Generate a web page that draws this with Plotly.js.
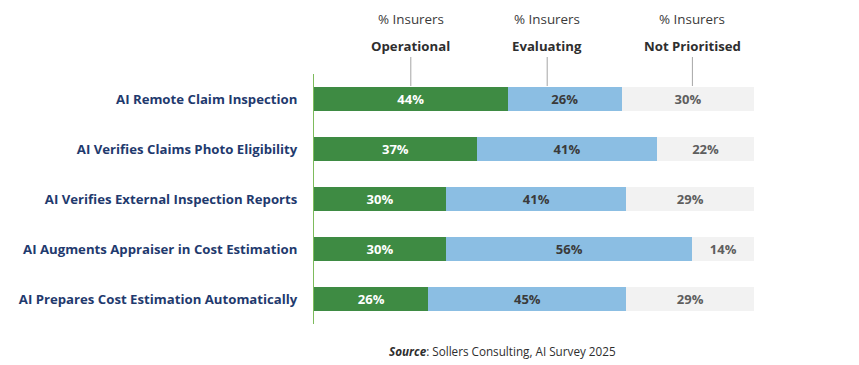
<!DOCTYPE html>
<html>
<head>
<meta charset="utf-8">
<script src="https://cdn.plot.ly/plotly-3.0.1.min.js"></script>
<style>html,body{margin:0;padding:0;background:#fff;}#chart{width:859px;height:365px;}</style>
</head>
<body>
<div id="chart"></div>
<script>
const categories = [
  "AI Remote Claim Inspection",
  "AI Verifies Claims Photo Eligibility",
  "AI Verifies External Inspection Reports",
  "AI Augments Appraiser in Cost Estimation",
  "AI Prepares Cost Estimation Automatically"
];
const operational = [44, 37, 30, 30, 26];
const evaluating = [26, 41, 41, 56, 45];
const notPrioritised = [30, 22, 29, 14, 29];
const seriesNames = ["Operational", "Evaluating", "Not Prioritised"];
const headerX = [22, 53, 86];

const FONT = "'Open Sans', Lato, sans-serif";
const colors = ["#3E8B43", "#8BBEE3", "#F2F2F2"];
const textColors = ["#FFFFFF", "#3A3A3A", "#5E5E5E"];
const series = [operational, evaluating, notPrioritised];

const traces = series.map((vals, i) => ({
  type: "bar",
  orientation: "h",
  name: seriesNames[i],
  y: categories,
  x: vals,
  marker: {color: colors[i], line: {width: 0}},
  text: vals.map(v => v + "%"),
  textposition: "inside",
  insidetextanchor: "middle",
  textangle: 0,
  textfont: {family: FONT, size: 13, color: textColors[i], weight: 700},
  hoverinfo: "skip"
}));

const layout = {
  width: 859, height: 365,
  margin: {l: 314, r: 105, t: 74, b: 41},
  paper_bgcolor: "#fff", plot_bgcolor: "#fff",
  barmode: "stack",
  bargap: 0.52,
  showlegend: false,
  xaxis: {range: [0, 100], visible: false, fixedrange: true},
  yaxis: {
    autorange: "reversed",
    showline: true, linecolor: "#7DBB5C", linewidth: 1,
    showgrid: false, zeroline: false, ticks: "",
    ticklabelstandoff: 13,
    tickfont: {family: FONT, size: 13.2, color: "#1F3A6E", weight: 700}
  },
  annotations: [],
  shapes: []
};

const plotH = 365 - 74 - 41;
function py(pixY) { return (365 - 41 - pixY) / plotH; }
seriesNames.forEach((n, i) => {
  layout.annotations.push({
    x: headerX[i], xref: "x", y: py(19), yref: "paper", yanchor: "middle",
    text: "% Insurers", showarrow: false,
    font: {family: FONT, size: 13.4, color: "#3A3A3A"}
  });
  layout.annotations.push({
    x: headerX[i], xref: "x", y: py(46), yref: "paper", yanchor: "middle",
    text: "<b>" + n + "</b>", showarrow: false,
    font: {family: FONT, size: 13.2, color: "#2E2E2E"}
  });
  layout.shapes.push({
    type: "line", xref: "x", yref: "paper",
    x0: headerX[i], x1: headerX[i], y0: py(57), y1: py(86),
    line: {color: "#A6A6A6", width: 1}
  });
});
layout.annotations.push({
  x: (502 - 314) / (859 - 314 - 105), xref: "paper", y: py(351), yref: "paper", yanchor: "middle",
  text: "<b><i>Source</i></b>: Sollers Consulting, AI Survey 2025", showarrow: false,
  font: {family: FONT, size: 11.7, color: "#2E2E2E"}
});

Plotly.newPlot("chart", traces, layout, {staticPlot: true, displayModeBar: false});
</script>
</body>
</html>
